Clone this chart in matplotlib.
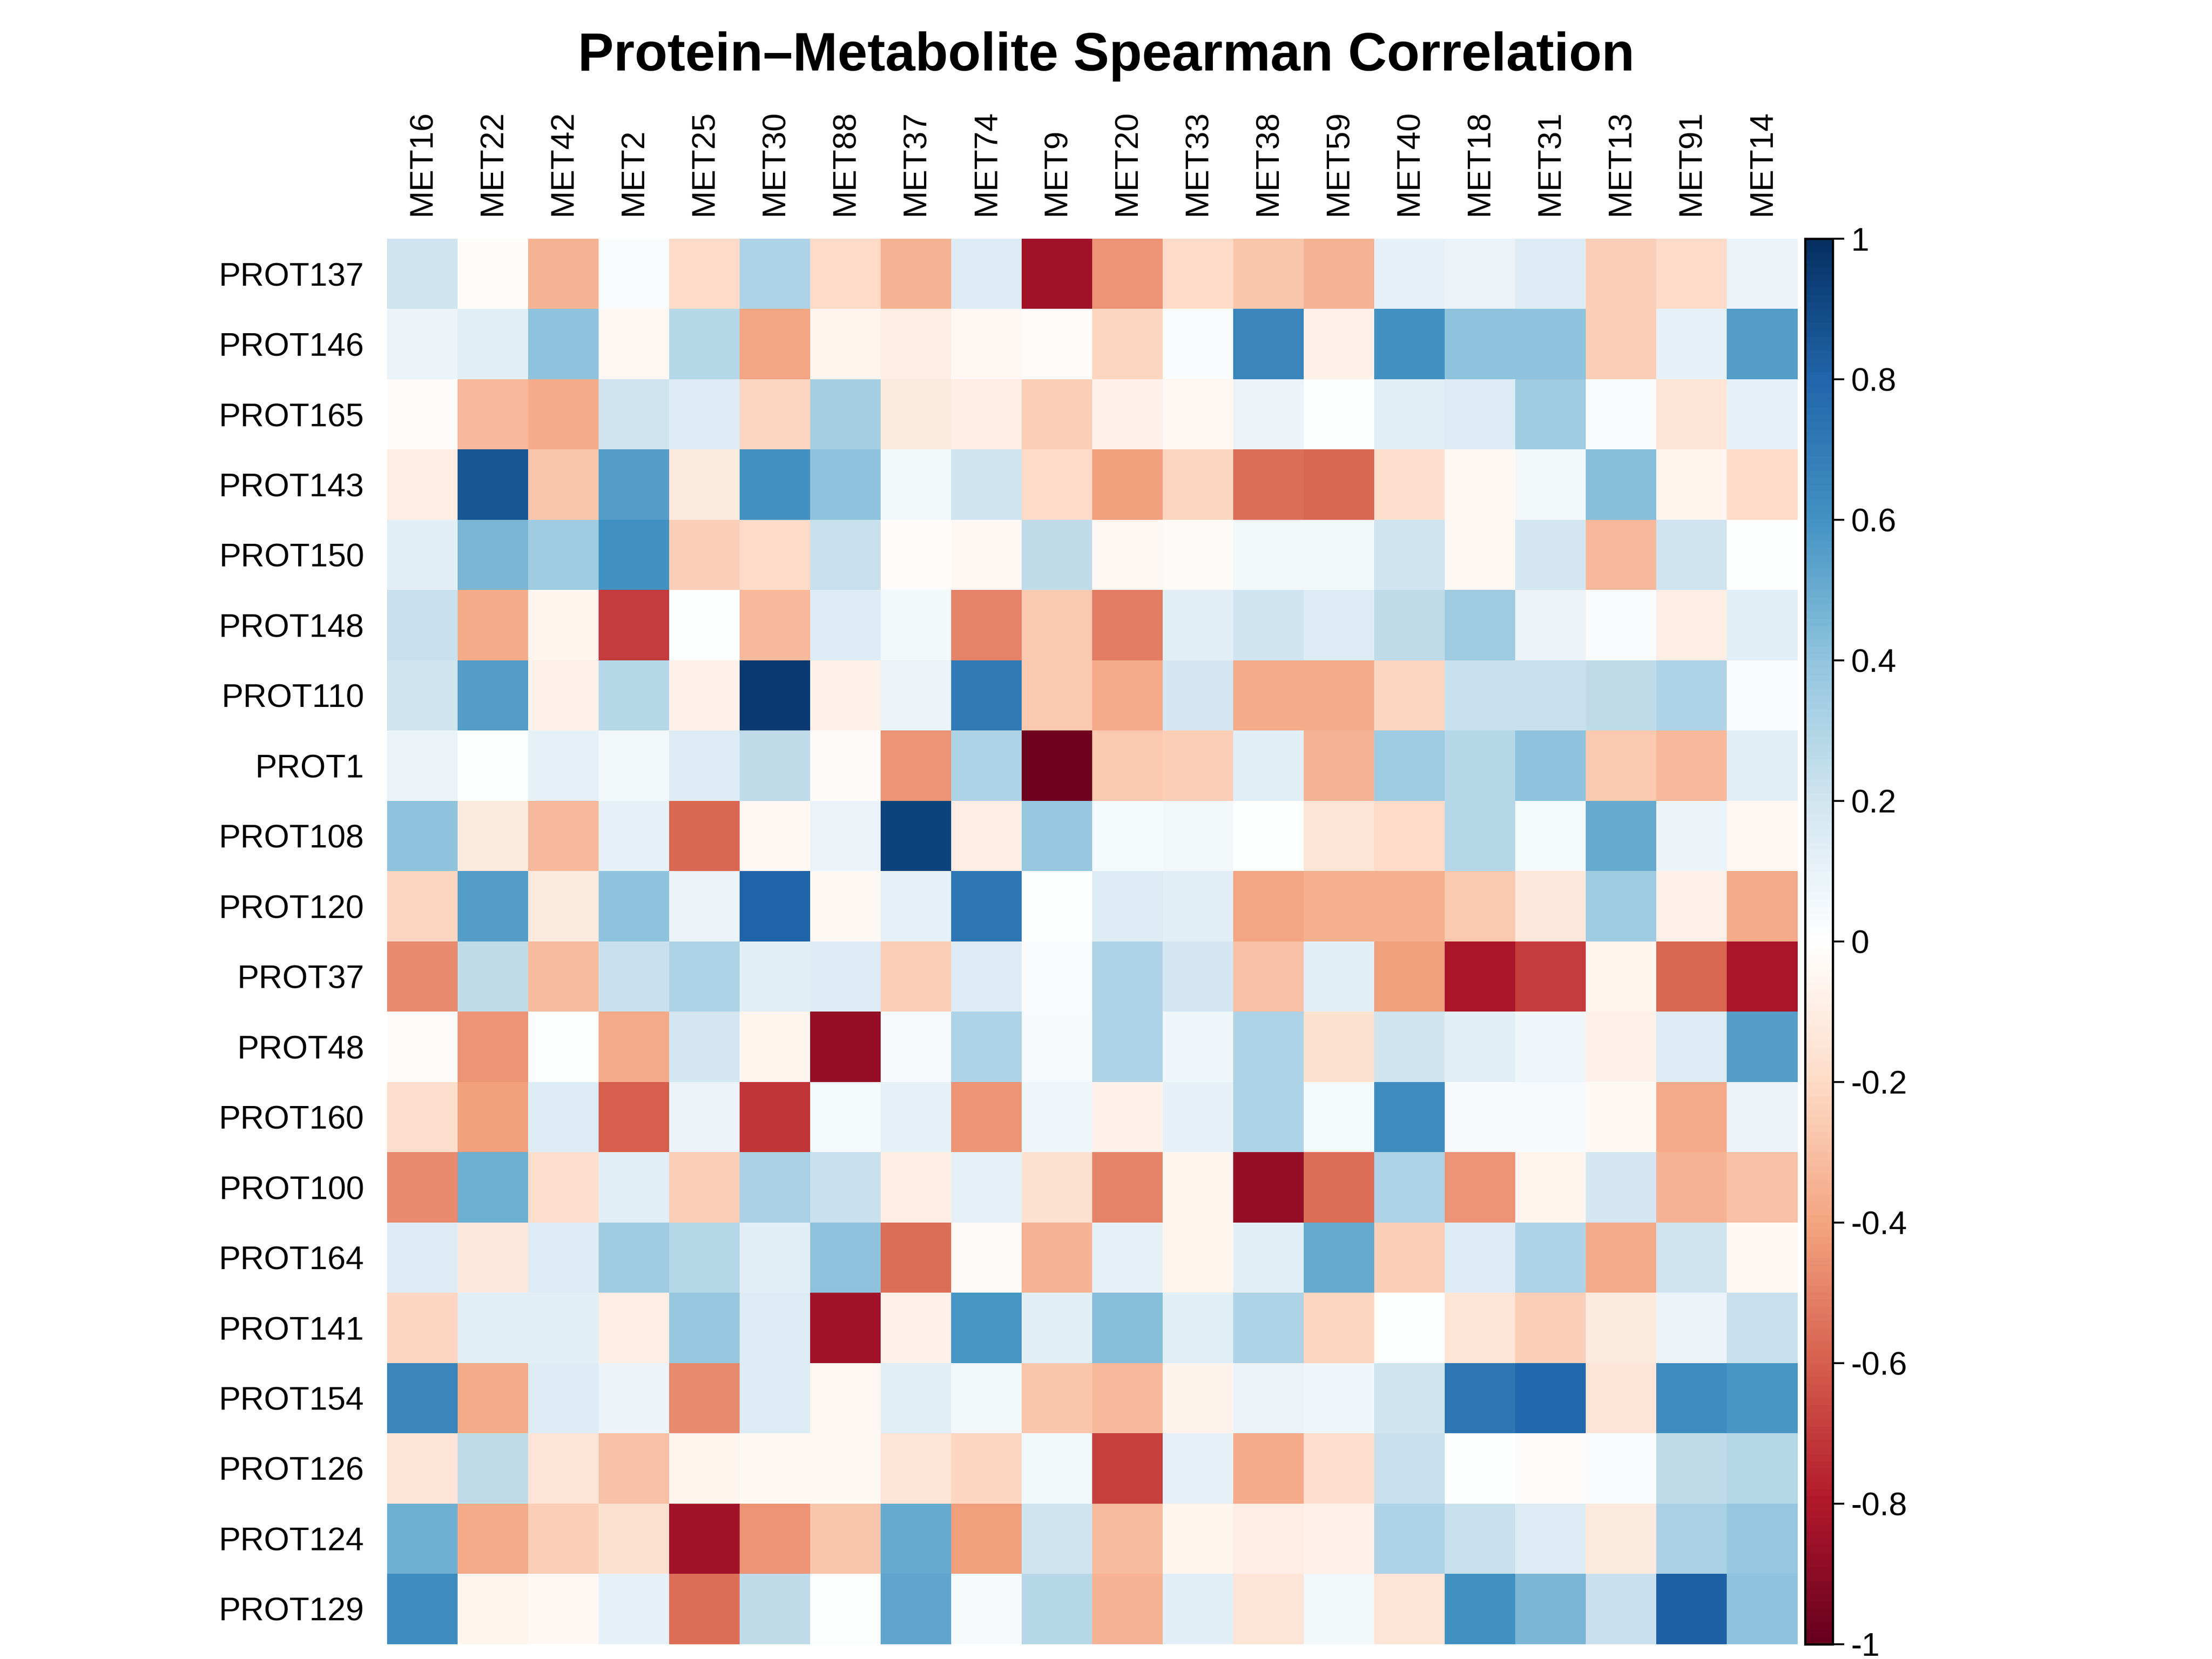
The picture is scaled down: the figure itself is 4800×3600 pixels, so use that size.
import numpy as np
import matplotlib
matplotlib.use("Agg")
import matplotlib.pyplot as plt
from matplotlib.colors import LinearSegmentedColormap

plt.rcParams['font.family'] = ['Liberation Sans', 'DejaVu Sans']

mets = ["MET16", "MET22", "MET42", "MET2", "MET25", "MET30", "MET88", "MET37", "MET74", "MET9",
        "MET20", "MET33", "MET38", "MET59", "MET40", "MET18", "MET31", "MET13", "MET91", "MET14"]
prots = ["PROT137", "PROT146", "PROT165", "PROT143", "PROT150", "PROT148", "PROT110", "PROT1",
         "PROT108", "PROT120", "PROT37", "PROT48", "PROT160", "PROT100", "PROT164", "PROT141",
         "PROT154", "PROT126", "PROT124", "PROT129"]

corr = [
    [0.2, -0.02, -0.35, 0.02, -0.2, 0.3, -0.2, -0.35, 0.15, -0.85, -0.45, -0.2, -0.28, -0.35, 0.1, 0.08, 0.15, -0.25, -0.2, 0.08],
    [0.08, 0.12, 0.4, -0.04, 0.28, -0.4, -0.06, -0.1, -0.04, -0.02, -0.22, 0.02, 0.65, -0.08, 0.6, 0.4, 0.4, -0.25, 0.1, 0.55],
    [-0.02, -0.33, -0.38, 0.2, 0.15, -0.22, 0.33, -0.12, -0.1, -0.25, -0.08, -0.04, 0.08, 0.0, 0.12, 0.15, 0.35, 0.02, -0.15, 0.1],
    [-0.1, 0.85, -0.28, 0.55, -0.12, 0.6, 0.4, 0.05, 0.2, -0.2, -0.42, -0.22, -0.55, -0.58, -0.18, -0.04, 0.05, 0.42, -0.06, -0.2],
    [0.12, 0.45, 0.35, 0.6, -0.25, -0.2, 0.22, -0.02, -0.04, 0.25, -0.04, -0.03, 0.05, 0.05, 0.2, -0.04, 0.18, -0.33, 0.2, 0.0],
    [0.22, -0.38, -0.06, -0.7, 0.0, -0.33, 0.15, 0.05, -0.5, -0.27, -0.52, 0.12, 0.2, 0.15, 0.25, 0.35, 0.08, 0.02, -0.1, 0.12],
    [0.2, 0.55, -0.08, 0.28, -0.08, 0.95, -0.08, 0.08, 0.7, -0.27, -0.38, 0.18, -0.38, -0.38, -0.22, 0.22, 0.22, 0.25, 0.3, 0.02],
    [0.08, 0.0, 0.1, 0.05, 0.15, 0.25, -0.03, -0.45, 0.3, -0.98, -0.27, -0.25, 0.12, -0.35, 0.35, 0.28, 0.4, -0.27, -0.33, 0.12],
    [0.4, -0.12, -0.33, 0.1, -0.58, -0.04, 0.08, 0.92, -0.1, 0.38, 0.04, 0.05, 0.0, -0.15, -0.2, 0.28, 0.04, 0.5, 0.08, -0.05],
    [-0.22, 0.55, -0.12, 0.4, 0.08, 0.8, -0.04, 0.1, 0.72, 0.0, 0.15, 0.12, -0.4, -0.36, -0.36, -0.27, -0.13, 0.35, -0.08, -0.38],
    [-0.48, 0.25, -0.32, 0.22, 0.3, 0.12, 0.15, -0.25, 0.15, 0.02, 0.3, 0.18, -0.3, 0.12, -0.42, -0.82, -0.7, -0.06, -0.58, -0.82],
    [-0.02, -0.45, 0.0, -0.38, 0.18, -0.06, -0.88, 0.03, 0.3, 0.03, 0.3, 0.06, 0.3, -0.17, 0.2, 0.12, 0.06, -0.08, 0.15, 0.55],
    [-0.18, -0.42, 0.15, -0.6, 0.08, -0.72, 0.04, 0.1, -0.45, 0.06, -0.08, 0.1, 0.3, 0.04, 0.62, 0.03, 0.03, -0.04, -0.38, 0.08],
    [-0.48, 0.48, -0.18, 0.12, -0.25, 0.32, 0.22, -0.1, 0.1, -0.17, -0.5, -0.06, -0.88, -0.55, 0.3, -0.45, -0.06, 0.18, -0.35, -0.3],
    [0.15, -0.13, 0.15, 0.35, 0.28, 0.12, 0.4, -0.55, -0.03, -0.35, 0.1, -0.06, 0.12, 0.5, -0.25, 0.15, 0.3, -0.38, 0.2, -0.04],
    [-0.22, 0.12, 0.12, -0.1, 0.38, 0.15, -0.85, -0.08, 0.58, 0.12, 0.42, 0.12, 0.3, -0.22, 0.0, -0.15, -0.25, -0.12, 0.08, 0.22],
    [0.65, -0.38, 0.15, 0.08, -0.48, 0.15, -0.05, 0.12, 0.05, -0.28, -0.33, -0.07, 0.08, 0.06, 0.2, 0.72, 0.78, -0.15, 0.62, 0.58],
    [-0.15, 0.25, -0.15, -0.3, -0.06, -0.04, -0.04, -0.15, -0.22, 0.05, -0.68, 0.1, -0.38, -0.18, 0.22, 0.0, -0.02, 0.02, 0.25, 0.28],
    [0.48, -0.38, -0.25, -0.17, -0.85, -0.45, -0.28, 0.5, -0.42, 0.2, -0.32, -0.06, -0.1, -0.08, 0.3, 0.22, 0.15, -0.12, 0.32, 0.38],
    [0.62, -0.06, -0.04, 0.1, -0.55, 0.25, 0.0, 0.52, 0.03, 0.28, -0.35, 0.12, -0.15, 0.05, -0.15, 0.6, 0.45, 0.22, 0.82, 0.4],
]

# corrplot-style RdBu with a pure white centre
col2 = ["#67001F", "#B2182B", "#D6604D", "#F4A582", "#FDDBC7", "#FFFFFF",
        "#D1E5F0", "#92C5DE", "#4393C3", "#2166AC", "#053061"]
cmap = LinearSegmentedColormap.from_list("col2", col2, N=200)

fig = plt.figure(figsize=(16, 12), dpi=300)
ax = fig.add_axes([0.175, 0.009, 0.6376, 0.847])
im = ax.imshow(np.array(corr), cmap=cmap, vmin=-1, vmax=1, aspect="auto")
ax.set_xticks(range(len(mets)))
ax.set_xticklabels(mets, rotation=90, fontsize=17)
ax.set_yticks(range(len(prots)))
ax.set_yticklabels(prots, fontsize=17)
ax.xaxis.tick_top()
ax.tick_params(length=0, pad=12)
for s in ax.spines.values():
    s.set_visible(False)

cax = fig.add_axes([0.816, 0.009, 0.0125, 0.847])
cb = fig.colorbar(im, cax=cax, ticks=np.arange(-1, 1.01, 0.2))
cb.ax.set_yticklabels(["-1", "-0.8", "-0.6", "-0.4", "-0.2", "0", "0.2", "0.4", "0.6", "0.8", "1"])
cb.ax.tick_params(labelsize=17, length=6, width=1)
cb.outline.set_linewidth(1.2)

fig.text(0.5, 0.966, "Protein\u2013Metabolite Spearman Correlation", ha="center", va="center",
         fontsize=28, fontweight="bold")
fig.savefig("out.png", dpi=300)
